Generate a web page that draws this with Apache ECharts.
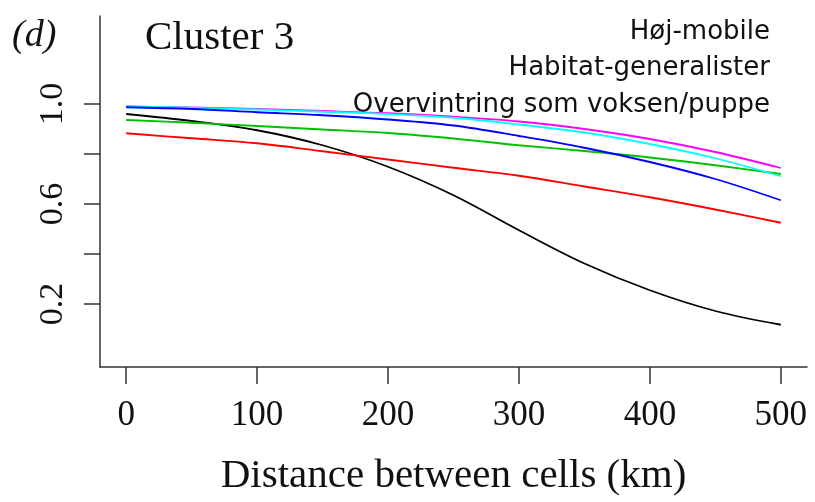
<!DOCTYPE html>
<html>
<head>
<meta charset="utf-8">
<script src="https://cdn.jsdelivr.net/npm/echarts@6/dist/echarts.min.js"></script>
<style>
  html, body { margin: 0; padding: 0; background: #fff; }
  #chart { width: 815px; height: 502px; }
</style>
</head>
<body>
<div id="chart"></div>
<script>
// distance between cells (km)
const distances = [0, 50, 100, 150, 200, 250, 300, 350, 400, 450, 500]

// similarity curves
const blackVals   = [0.960, 0.932, 0.895, 0.835, 0.749, 0.635, 0.495, 0.362, 0.255, 0.172, 0.117]
const redVals     = [0.883, 0.863, 0.843, 0.811, 0.778, 0.745, 0.713, 0.670, 0.627, 0.578, 0.525]
const greenVals   = [0.936, 0.925, 0.912, 0.898, 0.884, 0.862, 0.835, 0.812, 0.786, 0.755, 0.720]
const blueVals    = [0.987, 0.980, 0.967, 0.955, 0.938, 0.914, 0.872, 0.825, 0.768, 0.700, 0.615]
const cyanVals    = [0.990, 0.985, 0.978, 0.969, 0.960, 0.945, 0.918, 0.886, 0.840, 0.783, 0.711]
const magentaVals = [0.990, 0.986, 0.980, 0.972, 0.963, 0.949, 0.930, 0.900, 0.860, 0.808, 0.744]

const xTicks = [0, 100, 200, 300, 400, 500]
const yTicks = [0.2, 0.4, 0.6, 0.8, 1.0]
const yLabels = [0.2, 0.6, 1.0]

const legendLines = ['Høj-mobile', 'Habitat-generalister', 'Overvintring som voksen/puppe']

const serif = '"Liberation Serif", "DejaVu Serif", serif'
const axisColor = '#333'

const chart = echarts.init(document.getElementById('chart'), null, { renderer: 'canvas' })

const mkLine = (vals, color) => ({
  type: 'line',
  data: distances.map((d, i) => [d, vals[i]]),
  smooth: 0.35,
  symbol: 'none',
  lineStyle: { color: color, width: 1.8 },
  z: 3,
})

chart.setOption({
  animation: false,
  backgroundColor: '#fff',
  grid: { left: 100, right: 8, top: 16, bottom: 131 },
  xAxis: {
    type: 'value',
    min: -20,
    max: 520,
    name: 'Distance between cells (km)',
    nameLocation: 'middle',
    nameGap: 89,
    nameTextStyle: { fontFamily: serif, fontSize: 41, color: '#111' },
    axisLine: { show: true, onZero: false, lineStyle: { color: axisColor, width: 1.5 } },
    axisTick: { show: true, customValues: xTicks, length: 17, lineStyle: { color: axisColor, width: 1.5 } },
    axisLabel: {
      customValues: xTicks,
      fontFamily: serif,
      fontSize: 35,
      color: '#111',
      margin: 31,
    },
    splitLine: { show: false },
  },
  yAxis: {
    type: 'value',
    min: -0.052,
    max: 1.352,
    axisLine: { show: true, onZero: false, lineStyle: { color: axisColor, width: 1.5 } },
    axisTick: { show: true, customValues: yTicks, length: 16, lineStyle: { color: axisColor, width: 1.5 } },
    axisLabel: {
      customValues: yLabels,
      rotate: 90,
      fontFamily: serif,
      fontSize: 34,
      color: '#111',
      margin: 30,
      formatter: v => v.toFixed(1),
    },
    splitLine: { show: false },
  },
  graphic: [
    {
      type: 'text', left: 12, top: 17,
      style: { text: '(d)', font: 'italic 38px ' + serif, fill: '#111' },
    },
    {
      type: 'text', left: 145, top: 18,
      style: { text: 'Cluster 3', font: '41px ' + serif, fill: '#111' },
    },
    ...legendLines.map((t, i) => ({
      type: 'text',
      right: 815 - 770,
      top: 19 + i * 36.5,
      style: { text: t, font: '26px "DejaVu Sans", sans-serif', fill: '#111' },
    })),
  ],
  series: [
    mkLine(blackVals, '#000000'),
    mkLine(redVals, '#ff0000'),
    mkLine(greenVals, '#00c000'),
    mkLine(magentaVals, '#ff00ff'),
    mkLine(cyanVals, '#00ffff'),
    mkLine(blueVals, '#0000ff'),
  ],
})
</script>
</body>
</html>
